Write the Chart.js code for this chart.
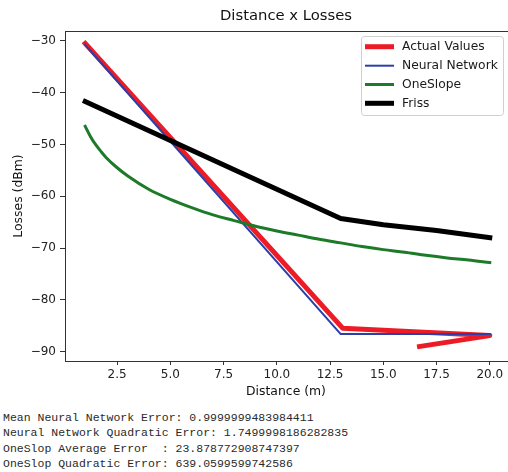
<!DOCTYPE html>
<html>
<head>
<meta charset="utf-8">
<script src="https://cdn.jsdelivr.net/npm/chart.js@4.4.1/dist/chart.umd.min.js"></script>
<style>
  html, body { margin: 0; padding: 0; background: #fff; width: 508px; height: 472px; overflow: hidden; }
  #wrap { position: absolute; left: 0; top: 0; width: 510px; height: 400px; }
  #notes { position: absolute; left: 3px; top: 410px; margin: 0; font: 11.5px "Liberation Mono", "DejaVu Sans Mono", monospace; line-height: 15.3px; color: #2a2a2a; white-space: pre; }
</style>
</head>
<body>
<div id="wrap"><canvas id="c" width="510" height="400"></canvas></div>
<pre id="notes"></pre>
<script>
// ---- data ----
const chartTitle = "Distance x Losses";
const xAxisTitle = "Distance (m)";
const yAxisTitle = "Losses (dBm)";
const seriesNames = ["Actual Values", "Neural Network", "OneSlope", "Friss"];

const actualX = [1, 13.1, 20, 16.7];
const actualY = [-30.5, -85.5, -86.9, -89.0];

const neuralX = [1, 13, 20];
const neuralY = [-30.8, -86.6, -86.6];

const oneSlopeX = [1, 1.25, 1.5, 1.75, 2, 2.5, 3, 4, 5, 6, 7, 8, 9, 10, 11, 12, 13, 14, 15, 16, 17, 18, 19, 20];
const oneSlopeY = [-46.5, -48.5, -50.1, -51.4, -52.6, -54.5, -56.1, -58.7, -60.6, -62.2, -63.6, -64.7, -65.8, -66.7, -67.5, -68.3, -69.0, -69.7, -70.3, -70.8, -71.4, -71.9, -72.3, -72.8];

const frissX = [1, 13, 15, 17.5, 20];
const frissY = [-41.7, -64.3, -65.5, -66.6, -68.0];

const xTickValues = [2.5, 5, 7.5, 10, 12.5, 15, 17.5, 20];
const yTickValues = [-90, -80, -70, -60, -50, -40, -30];

const noteLines = [
  "Mean Neural Network Error: 0.9999999483984411",
  "Neural Network Quadratic Error: 1.7499998186282835",
  "OneSlop Average Error  : 23.878772908747397",
  "OneSlop Quadratic Error: 639.0599599742586"
];

const colors = ["rgb(236,28,38)", "rgb(44,62,170)", "rgb(28,122,40)", "rgb(0,0,0)"];
const widths = [5, 2, 3, 5];

document.getElementById("notes").textContent = noteLines.join("\n");

function pts(xs, ys) { return xs.map((x, i) => ({ x: x, y: ys[i] })); }

const FONT = '"DejaVu Sans", sans-serif';

const decor = {
  id: "decor",
  afterDraw(chart) {
    const ctx = chart.ctx, a = chart.chartArea;
    ctx.save();
    // top border
    ctx.strokeStyle = "#333"; ctx.lineWidth = 1;
    ctx.beginPath(); ctx.moveTo(a.left, a.top + 0.5); ctx.lineTo(a.right, a.top + 0.5); ctx.stroke();
    // title
    ctx.fillStyle = "#111";
    ctx.textAlign = "center"; ctx.textBaseline = "middle";
    ctx.font = "14.8px " + FONT;
    ctx.fillText(chartTitle, 286, 16);
    // axis titles
    ctx.font = "12.4px " + FONT;
    ctx.fillText(xAxisTitle, 286, 392);
    ctx.save();
    ctx.translate(19, 196); ctx.rotate(-Math.PI / 2);
    ctx.fillText(yAxisTitle, 0, 0);
    ctx.restore();
    // legend
    const lx = 361, ly = 36, lw = 142, lh = 79, r = 3;
    ctx.fillStyle = "rgba(255,255,255,0.85)";
    ctx.strokeStyle = "#d0d0d0"; ctx.lineWidth = 1;
    ctx.beginPath();
    ctx.moveTo(lx + r, ly + 0.5); ctx.lineTo(lx + lw - r, ly + 0.5);
    ctx.arcTo(lx + lw + 0.5, ly + 0.5, lx + lw + 0.5, ly + r, r);
    ctx.lineTo(lx + lw + 0.5, ly + lh - r);
    ctx.arcTo(lx + lw + 0.5, ly + lh + 0.5, lx + lw - r, ly + lh + 0.5, r);
    ctx.lineTo(lx + r, ly + lh + 0.5);
    ctx.arcTo(lx + 0.5, ly + lh + 0.5, lx + 0.5, ly + lh - r, r);
    ctx.lineTo(lx + 0.5, ly + r);
    ctx.arcTo(lx + 0.5, ly + 0.5, lx + r, ly + 0.5, r);
    ctx.closePath(); ctx.fill(); ctx.stroke();
    const rows = [46.7, 65.7, 84.5, 103.3];
    ctx.font = "12.3px " + FONT; ctx.textAlign = "left"; ctx.textBaseline = "middle";
    chart.data.datasets.forEach((ds, i) => {
      ctx.strokeStyle = ds.borderColor; ctx.lineWidth = ds.borderWidth; ctx.lineCap = "butt";
      ctx.beginPath(); ctx.moveTo(365, rows[i]); ctx.lineTo(394, rows[i]); ctx.stroke();
      ctx.fillStyle = "#1a1a1a";
      ctx.fillText(ds.label, 402, rows[i] + 0.5);
    });
    ctx.restore();
  }
};

const datasets = [
  { label: seriesNames[0], data: pts(actualX, actualY), order: 4 },
  { label: seriesNames[1], data: pts(neuralX, neuralY), order: 3 },
  { label: seriesNames[2], data: pts(oneSlopeX, oneSlopeY), order: 2, cubicInterpolationMode: "monotone" },
  { label: seriesNames[3], data: pts(frissX, frissY), order: 1 }
].map((d, i) => Object.assign({
  borderColor: colors[i], backgroundColor: colors[i], borderWidth: widths[i],
  pointRadius: 0, pointHoverRadius: 0, fill: false, tension: 0,
  borderCapStyle: "square", borderJoinStyle: "round"
}, d));

new Chart(document.getElementById("c"), {
  type: "line",
  data: { datasets: datasets },
  options: {
    responsive: false, animation: false, events: [],
    layout: { padding: { top: 31, left: 0, right: 0, bottom: 0 } },
    plugins: { legend: { display: false }, title: { display: false }, tooltip: { enabled: false } },
    scales: {
      x: {
        type: "linear", min: 0.05, max: 20.95,
        afterFit(s) { s.height = 39; },
        afterBuildTicks(s) { s.ticks = xTickValues.map(v => ({ value: v })); },
        grid: { drawOnChartArea: false, drawTicks: true, tickLength: 4, color: "#333", tickWidth: 1 },
        border: { display: true, color: "#333", width: 1 },
        ticks: { padding: 3, color: "#222", font: { family: FONT, size: 12 }, maxRotation: 0, autoSkip: false,
                 callback: v => Number(v).toFixed(1) }
      },
      y: {
        type: "linear", min: -91.8, max: -28.1,
        afterFit(s) { s.width = 65; },
        afterBuildTicks(s) { s.ticks = yTickValues.map(v => ({ value: v })); },
        grid: { drawOnChartArea: false, drawTicks: true, tickLength: 5, color: "#333", tickWidth: 1 },
        border: { display: true, color: "#333", width: 1 },
        ticks: { padding: 4, color: "#222", font: { family: FONT, size: 12 }, autoSkip: false,
                 callback: v => (v < 0 ? "\u2212" : "") + Math.abs(v) }
      }
    }
  },
  plugins: [decor]
});
</script>
</body>
</html>
